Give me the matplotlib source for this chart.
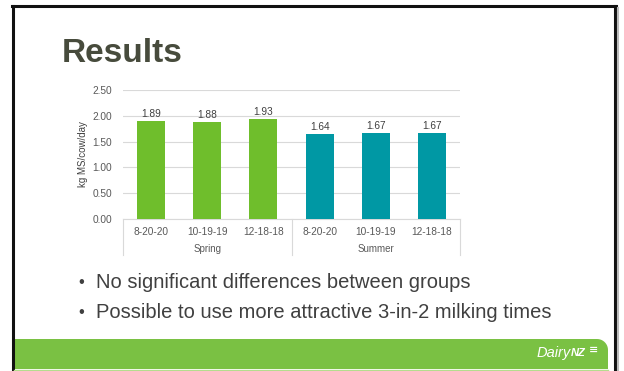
import matplotlib
matplotlib.use("Agg")
import matplotlib.pyplot as plt
from matplotlib.path import Path
from matplotlib.patches import PathPatch
import numpy as np

plt.rcParams['font.family'] = ['Liberation Sans', 'DejaVu Sans']

# ---- data ----
groups = ["Spring", "Summer"]
schedules = ["8-20-20", "10-19-19", "12-18-18"]
spring_values = [1.89, 1.88, 1.93]
summer_values = [1.64, 1.67, 1.67]
y_ticks = [0.0, 0.5, 1.0, 1.5, 2.0, 2.5]
y_label = "kg MS/cow/day"
title = "Results"
bullets = ["No significant differences between groups",
           "Possible to use more attractive 3-in-2 milking times"]

W, H = 624, 371
fig = plt.figure(figsize=(W / 100, H / 100), dpi=100)
fig.patch.set_facecolor("white")

def fx(px):
    return px / W

def fy(py):
    return 1 - py / H

# ---- slide frame ----
fig.add_artist(plt.Line2D([fx(13), fx(13)], [fy(371), fy(6)], color="#111111", lw=2.2, transform=fig.transFigure))
fig.add_artist(plt.Line2D([fx(614.5), fx(614.5)], [fy(371), fy(6)], color="#111111", lw=2.2, transform=fig.transFigure))
fig.add_artist(plt.Line2D([fx(12), fx(615.5)], [fy(6), fy(6)], color="#111111", lw=2.2, transform=fig.transFigure))
fig.add_artist(plt.Line2D([fx(617.5), fx(617.5)], [fy(371), fy(8)], color="#BBBBBB", lw=1.5, transform=fig.transFigure))

# green footer band with rounded top-right corner
x0, x1, y0, y1, r = 14, 608, 339, 369, 11
th = np.linspace(np.pi / 2, 0, 12)
pts = [(x0, y1), (x0, y0), (x1 - r, y0)]
pts += [(x1 - r + r * np.cos(t), y0 + r - r * np.sin(t)) for t in th]
pts += [(x1, y1), (x0, y1)]
verts = [(fx(a), fy(b)) for a, b in pts]
codes = [Path.MOVETO] + [Path.LINETO] * (len(verts) - 2) + [Path.CLOSEPOLY]
fig.add_artist(PathPatch(Path(verts, codes), facecolor="#7AC143", edgecolor="none", transform=fig.transFigure))
fig.add_artist(plt.Line2D([fx(14), fx(608)], [fy(370), fy(370)], color="#B5DC8E", lw=1, transform=fig.transFigure))
fig.text(fx(571), fy(353), "Dairy", color="white", fontsize=10.5, style="italic", ha="right", va="center")
fig.text(fx(571), fy(353.5), "NZ", color="white", fontsize=8, style="italic", fontweight="bold", ha="left", va="center")
fig.text(fx(589), fy(350), "≡", color="white", fontsize=8, fontweight="bold", ha="left", va="center", family="DejaVu Sans")

# title
fig.text(fx(62), fy(53), title, fontsize=24, fontweight="bold", color="#474B3C", ha="left", va="center")

# bullets
for i, b in enumerate(bullets):
    yy = fy(282 + 30 * i)
    fig.text(fx(78), fy(283 + 30 * i), "•", fontsize=12, color="#404040", ha="left", va="center")
    fig.text(fx(96), yy, b, fontsize=14.5, color="#404040", ha="left", va="center")

# ---- chart ----
ax = fig.add_axes([fx(123), fy(219), fx(460) - fx(123), fy(90) - fy(219)])
values = spring_values + summer_values
colors = ["#6FBE2C"] * len(spring_values) + ["#0098A4"] * len(summer_values)
x = np.arange(len(values))
bars = ax.bar(x, values, width=0.5, color=colors, zorder=3)
for xi, v in zip(x, values):
    ax.text(xi, v + 0.04, f"{v:.2f}", ha="center", va="bottom", fontsize=7.3, color="#404040")

ax.set_xlim(-0.5, len(values) - 0.5)
ax.set_ylim(0, 2.5)
ax.set_yticks(y_ticks)
ax.set_yticklabels([f"{t:.2f}" for t in y_ticks], fontsize=7.3, color="#595959")
ax.yaxis.grid(True, color="#D9D9D9", lw=0.8, zorder=0)
ax.tick_params(axis="y", length=0, pad=8)
ax.tick_params(axis="x", length=0)
ax.set_xticks([])
for s in ["top", "right", "left"]:
    ax.spines[s].set_visible(False)
ax.spines["bottom"].set_color("#D9D9D9")
ax.spines["bottom"].set_linewidth(0.8)
ax.set_ylabel(y_label, fontsize=7, color="#404040", labelpad=3)

trans = ax.get_xaxis_transform()
labels = schedules + schedules
for xi, lab in zip(x, labels):
    ax.text(xi, -12.7 / 129, lab, transform=trans, ha="center", va="center", fontsize=7.3, color="#595959")
n = len(schedules)
for gi, g in enumerate(groups):
    center = gi * n + (n - 1) / 2
    ax.text(center, -30 / 129, g, transform=trans, ha="center", va="center", fontsize=7, color="#595959")
for sep in [-0.5 + n * k for k in range(len(groups) + 1)]:
    ax.plot([sep, sep], [0, -36 / 129], transform=trans, color="#D9D9D9", lw=0.8, clip_on=False)

fig.savefig("out.png", dpi=100)
